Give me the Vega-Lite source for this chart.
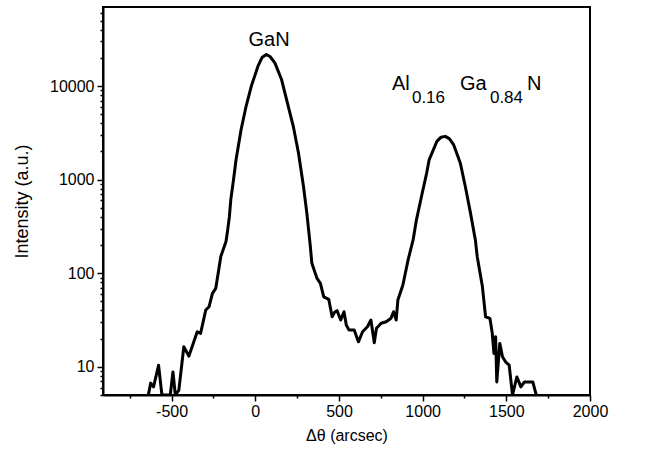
{
  "$schema": "https://vega.github.io/schema/vega-lite/v6.json",
  "width": 487,
  "height": 388,
  "autosize": {"type": "none"},
  "padding": {"left": 103, "top": 7, "right": 60, "bottom": 64},
  "background": "white",
  "config": {
    "view": {"stroke": "black", "strokeWidth": 2},
    "axis": {
      "domainColor": "black",
      "domainWidth": 2,
      "tickColor": "black",
      "tickWidth": 1.5,
      "labelColor": "black",
      "labelFont": "Liberation Sans",
      "labelFontSize": 16,
      "titleColor": "black",
      "titleFont": "Liberation Sans",
      "titleFontSize": 16,
      "titleFontWeight": "normal",
      "grid": false
    }
  },
  "datasets": {
    "curve": [
      {"x": -639, "y": 5}, {"x": -625, "y": 6.7}, {"x": -608, "y": 6.1}, {"x": -578, "y": 10.4},
      {"x": -558, "y": 5}, {"x": -508, "y": 5}, {"x": -492, "y": 8.8}, {"x": -478, "y": 5},
      {"x": -457, "y": 5.6}, {"x": -427, "y": 16.4}, {"x": -397, "y": 13.0}, {"x": -347, "y": 23.7},
      {"x": -327, "y": 22.8}, {"x": -296, "y": 40.5}, {"x": -276, "y": 43.9}, {"x": -256, "y": 61},
      {"x": -236, "y": 69}, {"x": -206, "y": 151}, {"x": -175, "y": 218}, {"x": -165, "y": 290},
      {"x": -155, "y": 400}, {"x": -146, "y": 620}, {"x": -130, "y": 1000}, {"x": -115, "y": 1633},
      {"x": -85, "y": 3420}, {"x": -55, "y": 6080},
      {"x": -24, "y": 9950}, {"x": 16, "y": 16300}, {"x": 40, "y": 20200}, {"x": 66, "y": 21700},
      {"x": 88, "y": 20700}, {"x": 117, "y": 17700}, {"x": 157, "y": 11750}, {"x": 187, "y": 7160},
      {"x": 227, "y": 3720}, {"x": 258, "y": 1930}, {"x": 288, "y": 846}, {"x": 308, "y": 439},
      {"x": 328, "y": 201}, {"x": 338, "y": 128}, {"x": 369, "y": 88}, {"x": 389, "y": 78},
      {"x": 409, "y": 56}, {"x": 439, "y": 52.7}, {"x": 459, "y": 34.3}, {"x": 475, "y": 38.5},
      {"x": 489, "y": 39.8}, {"x": 510, "y": 31.6}, {"x": 530, "y": 38.8}, {"x": 544, "y": 27.9},
      {"x": 560, "y": 24.7}, {"x": 591, "y": 24.7}, {"x": 616, "y": 18.5}, {"x": 641, "y": 23.7},
      {"x": 670, "y": 26.8}, {"x": 691, "y": 31.6}, {"x": 711, "y": 18.1}, {"x": 724, "y": 25.8},
      {"x": 752, "y": 29.2}, {"x": 782, "y": 30.3}, {"x": 811, "y": 33}, {"x": 826, "y": 38.8},
      {"x": 842, "y": 31.6}, {"x": 852, "y": 51.8}, {"x": 882, "y": 75}, {"x": 913, "y": 139},
      {"x": 943, "y": 227}, {"x": 963, "y": 372}, {"x": 993, "y": 661}, {"x": 1024, "y": 1178},
      {"x": 1039, "y": 1633}, {"x": 1085, "y": 2566}, {"x": 1110, "y": 2845}, {"x": 1135, "y": 2903},
      {"x": 1159, "y": 2744}, {"x": 1185, "y": 2365}, {"x": 1225, "y": 1507}, {"x": 1255, "y": 846},
      {"x": 1286, "y": 439}, {"x": 1315, "y": 227}, {"x": 1326, "y": 151}, {"x": 1357, "y": 72},
      {"x": 1376, "y": 34.3}, {"x": 1402, "y": 33}, {"x": 1416, "y": 22.8}, {"x": 1426, "y": 13.9},
      {"x": 1436, "y": 21}, {"x": 1443, "y": 6.9}, {"x": 1461, "y": 17.8}, {"x": 1477, "y": 12.8},
      {"x": 1497, "y": 11.2}, {"x": 1517, "y": 10.4}, {"x": 1537, "y": 5}, {"x": 1563, "y": 7.8},
      {"x": 1587, "y": 6.1}, {"x": 1608, "y": 6.9}, {"x": 1658, "y": 6.9}, {"x": 1679, "y": 5}
    ],
    "peakLabel": [{"x": 82, "y": 31100, "text": "GaN"}],
    "formula": [
      {"x": 817, "y": 10530, "text": "Al"},
      {"x": 1223, "y": 10530, "text": "Ga"},
      {"x": 1623, "y": 10530, "text": "N"}
    ],
    "subscripts": [
      {"x": 936, "y": 7460, "text": "0.16"},
      {"x": 1402, "y": 7460, "text": "0.84"}
    ]
  },
  "layer": [
    {
      "data": {"name": "curve"},
      "mark": {"type": "line", "color": "black", "strokeWidth": 3, "clip": true, "strokeJoin": "round"},
      "encoding": {
        "x": {
          "field": "x", "type": "quantitative",
          "scale": {"domain": [-910, 2000], "nice": false, "zero": false},
          "axis": {
            "title": "Δθ (arcsec)",
            "values": [-750, -500, -250, 0, 250, 500, 750, 1000, 1250, 1500, 1750, 2000],
            "labelExpr": "datum.value % 500 == 0 ? toString(datum.value) : ''",
            "tickSize": {"condition": {"test": "datum.value % 500 != 0", "value": 3}, "value": 6},
            "labelPadding": 2,
            "titlePadding": 8,
            "labelFlush": false
          }
        },
        "y": {
          "field": "y", "type": "quantitative",
          "scale": {"type": "log", "domain": [5, 70000], "nice": false},
          "axis": {
            "title": "Intensity (a.u.)",
            "values": [5, 6, 7, 8, 9, 10, 20, 30, 40, 50, 60, 70, 80, 90, 100, 200, 300, 400, 500, 600, 700, 800, 900, 1000, 2000, 3000, 4000, 5000, 6000, 7000, 8000, 9000, 10000, 20000, 30000, 40000, 50000, 60000],
            "labelExpr": "indexof([10, 100, 1000, 10000], datum.value) >= 0 ? toString(datum.value) : ''",
            "tickSize": {"condition": {"test": "indexof([10, 100, 1000, 10000], datum.value) < 0", "value": 3}, "value": 6},
            "labelPadding": 3,
            "titlePadding": 18,
            "titleFontSize": 18,
            "labelFlush": false
          }
        }
      }
    },
    {
      "data": {"name": "peakLabel"},
      "mark": {"type": "text", "font": "Liberation Sans", "fontSize": 20, "align": "center", "baseline": "middle", "color": "black"},
      "encoding": {
        "x": {"field": "x", "type": "quantitative"},
        "y": {"field": "y", "type": "quantitative"},
        "text": {"field": "text"}
      }
    },
    {
      "data": {"name": "formula"},
      "mark": {"type": "text", "font": "Liberation Sans", "fontSize": 20, "align": "left", "baseline": "middle", "color": "black"},
      "encoding": {
        "x": {"field": "x", "type": "quantitative"},
        "y": {"field": "y", "type": "quantitative"},
        "text": {"field": "text"}
      }
    },
    {
      "data": {"name": "subscripts"},
      "mark": {"type": "text", "font": "Liberation Sans", "fontSize": 17, "align": "left", "baseline": "middle", "color": "black"},
      "encoding": {
        "x": {"field": "x", "type": "quantitative"},
        "y": {"field": "y", "type": "quantitative"},
        "text": {"field": "text"}
      }
    }
  ]
}
